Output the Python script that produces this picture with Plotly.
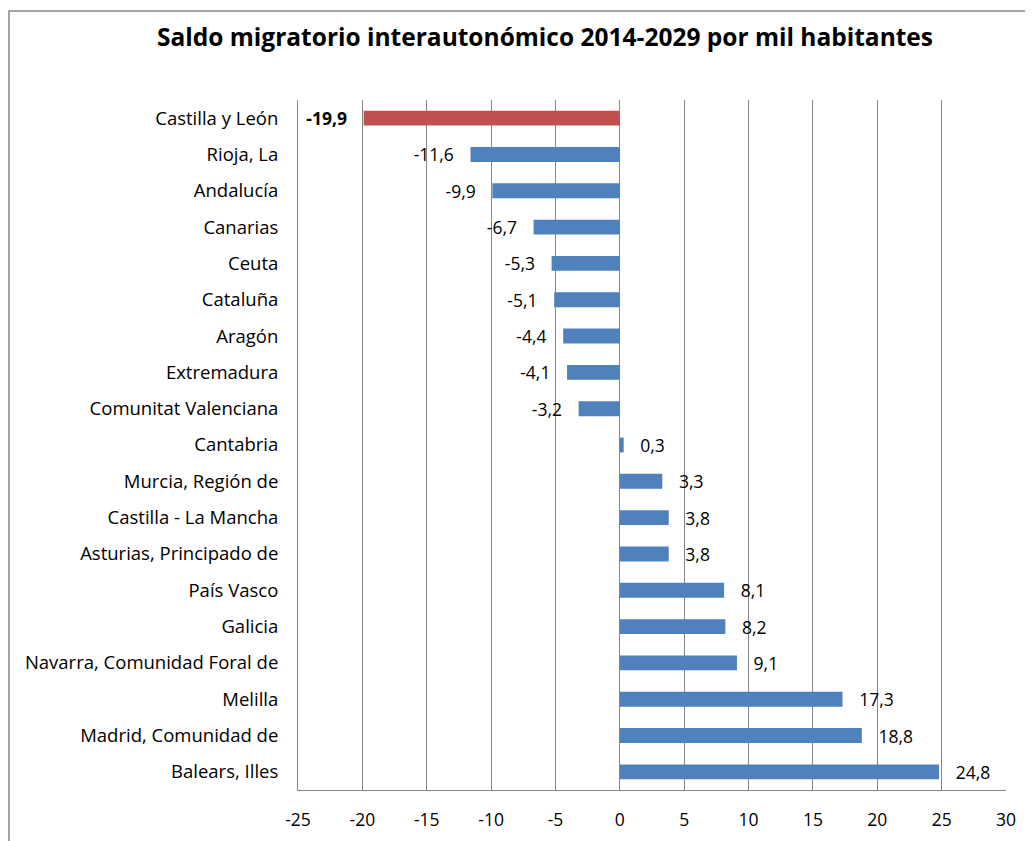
import plotly.graph_objects as go

regions = ["Castilla y León", "Rioja, La", "Andalucía", "Canarias", "Ceuta", "Cataluña",
           "Aragón", "Extremadura", "Comunitat Valenciana", "Cantabria", "Murcia, Región de",
           "Castilla - La Mancha", "Asturias, Principado de", "País Vasco", "Galicia",
           "Navarra, Comunidad Foral de", "Melilla", "Madrid, Comunidad de", "Balears, Illes"]
values = [-19.9, -11.6, -9.9, -6.7, -5.3, -5.1, -4.4, -4.1, -3.2, 0.3, 3.3, 3.8, 3.8,
          8.1, 8.2, 9.1, 17.3, 18.8, 24.8]
highlight = "Castilla y León"
x_ticks = [-25, -20, -15, -10, -5, 0, 5, 10, 15, 20, 25, 30]

BLUE = "#4F81BD"
RED = "#C0504D"
FONT = "Open Sans"
GRID = "#868686"

colors = [RED if r == highlight else BLUE for r in regions]
pad = "\u00a0" * 3
labels = []
for r, v in zip(regions, values):
    s = f"{v:.1f}".replace(".", ",")
    if r == highlight:
        s = f"<b>{s}</b>"
    labels.append(s + pad if v < 0 else pad + s)

fig = go.Figure(go.Bar(
    y=regions, x=values, orientation="h",
    marker=dict(color=colors, line=dict(width=0)),
    text=labels, textposition="outside", cliponaxis=False, constraintext="none",
    textfont=dict(family=FONT, size=17.5, color="black"),
))

# plot area in figure coords: x 290..998, y 92..782 (page has 8px body offset)
L, T, W, H = 290, 92, 708, 690
fig.update_layout(
    width=1033, height=841,
    margin=dict(l=L, r=1033 - L - W, t=T, b=841 - T - H, autoexpand=False),
    paper_bgcolor="white", plot_bgcolor="white",
    bargap=0.59,
    showlegend=False,
    title=dict(text="<b>Saldo migratorio interautonómico 2014-2029 por mil habitantes</b>",
               x=(537) / 1033, xanchor="center", y=1 - 29 / 841, yanchor="middle",
               font=dict(family=FONT, size=24.5, color="black")),
    font=dict(family=FONT, size=17.5, color="black"),
    xaxis=dict(range=[-25, 30], tickvals=x_ticks, ticktext=[str(t) for t in x_ticks],
               showgrid=True, gridcolor=GRID, gridwidth=1, zeroline=False,
               showline=True, linecolor=GRID, linewidth=1,
               ticks="", ticklabelstandoff=14, tickfont=dict(family=FONT, size=17.5)),
    yaxis=dict(categoryorder="array", categoryarray=regions[::-1],
               range=[-0.5, len(regions) - 0.5],
               showgrid=False, zeroline=False, showline=True, linecolor=GRID, linewidth=1,
               ticks="", ticklabelstandoff=15, tickfont=dict(family=FONT, size=18.5)),
    shapes=[dict(type="rect", xref="paper", yref="paper",
                 x0=(1 - L) / W, x1=1.2, y0=-0.3, y1=(T + H - 3) / H,
                 line=dict(color=GRID, width=1.5), fillcolor="rgba(0,0,0,0)", layer="below")],
)

fig.write_html("out.html")
